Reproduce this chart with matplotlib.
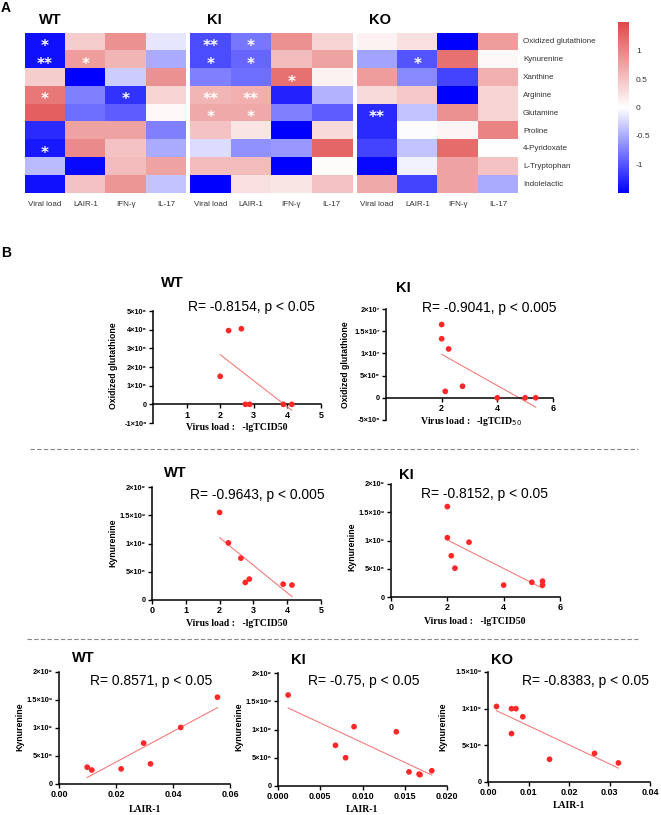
import numpy as np
import matplotlib
matplotlib.use("Agg")
import matplotlib.pyplot as plt
from matplotlib.colors import LinearSegmentedColormap
from matplotlib.lines import Line2D
from matplotlib.ticker import FixedLocator, FuncFormatter

# ---------------- data ----------------
metabolites = ["Oxidized glutathione", "Kynurenine", "Xanthine", "Arginine", "Glutamine",
               "Proline", "4-Pyridoxate", "L-Tryptophan", "Indolelactic"]
factors = ["Viral load", "LAIR-1", "IFN-\u03b3", "IL-17"]

wt_heat = [[-1.40, 0.40, 0.90, -0.15],
           [-1.40, 0.80, 0.60, -0.50],
           [0.40, -1.50, -0.30, 0.90],
           [1.10, -0.75, -1.20, 0.35],
           [1.30, -0.85, -0.95, 0.05],
           [-1.25, 0.75, 0.75, -0.75],
           [-1.35, 0.95, 0.50, -0.50],
           [-0.40, -1.45, 0.55, 0.75],
           [-1.40, 0.50, 0.85, -0.35]]
ki_heat = [[-1.05, -0.80, 0.90, 0.35],
           [-1.05, -0.90, 0.55, 0.75],
           [-0.75, -0.85, 1.15, 0.10],
           [0.60, 0.65, -1.30, -0.45],
           [0.70, 0.70, -0.75, -0.95],
           [0.50, 0.20, -1.50, 0.30],
           [-0.20, -0.65, -0.60, 1.25],
           [0.55, 0.55, -1.50, 0.03],
           [-1.50, 0.25, 0.20, 0.50]]
ko_heat = [[0.10, 0.25, -1.50, 0.80],
           [-0.55, -1.00, 1.15, 0.05],
           [0.80, -0.70, -1.10, 0.65],
           [0.30, 0.45, -1.50, 0.35],
           [-1.25, -0.35, 0.90, 0.35],
           [-1.25, -0.02, 0.08, 1.00],
           [-1.10, -0.35, 1.20, 0.00],
           [-1.45, -0.08, 0.75, 0.50],
           [0.70, -1.10, 0.75, -0.50]]

wt_stars = [(0, 0, "*"), (1, 0, "**"), (1, 1, "*"), (3, 0, "*"), (3, 2, "*"), (6, 0, "*")]
ki_stars = [(0, 0, "**"), (0, 1, "*"), (1, 0, "*"), (1, 1, "*"), (2, 2, "*"),
            (3, 0, "**"), (3, 1, "**"), (4, 0, "*"), (4, 1, "*")]
ko_stars = [(1, 1, "*"), (4, 0, "**")]

cbar_ticks = [-1, -0.5, 0, 0.5, 1]

# B row 1: oxidized glutathione vs virus load
wt_og_x = [2.00, 2.25, 2.63, 2.75, 2.88, 3.88, 4.13]
wt_og_y = [1.5e6, 3.95e6, 4.05e6, 0, 0, 0, 0]
ki_og_x = [2.00, 2.00, 2.25, 2.13, 2.75, 4.00, 5.00, 5.38]
ki_og_y = [1.65e7, 1.33e7, 1.10e7, 1.45e6, 2.6e6, 0, 0, 0]
# B row 2: kynurenine vs virus load
wt_ky_x = [2.00, 2.26, 2.63, 2.76, 2.88, 3.88, 4.14]
wt_ky_y = [1.55e9, 1.01e9, 0.74e9, 0.31e9, 0.37e9, 0.28e9, 0.265e9]
ki_ky_x = [2.00, 2.00, 2.77, 2.14, 2.27, 4.00, 5.00, 5.38, 5.38]
ki_ky_y = [1.60e9, 1.05e9, 0.97e9, 0.73e9, 0.51e9, 0.21e9, 0.26e9, 0.28e9, 0.21e9]
# B row 3: kynurenine vs LAIR-1
wt_la_x = [0.0099, 0.0115, 0.0218, 0.0297, 0.0321, 0.0427, 0.0556]
wt_la_y = [0.30e9, 0.25e9, 0.27e9, 0.73e9, 0.36e9, 1.01e9, 1.55e9]
ki_la_x = [0.0012, 0.0068, 0.0080, 0.0090, 0.0140, 0.0155, 0.0167, 0.0168, 0.0182]
ki_la_y = [1.61e9, 0.72e9, 0.50e9, 1.05e9, 0.96e9, 0.25e9, 0.21e9, 0.20e9, 0.27e9]
ko_la_x = [0.0021, 0.0058, 0.0069, 0.0086, 0.0058, 0.0152, 0.0263, 0.0322]
ko_la_y = [1.03e9, 1.00e9, 1.00e9, 0.89e9, 0.66e9, 0.31e9, 0.39e9, 0.26e9]

stats = {"wt_og": "R= -0.8154, p < 0.05", "ki_og": "R= -0.9041, p < 0.005",
         "wt_ky": "R= -0.9643, p < 0.005", "ki_ky": "R= -0.8152, p < 0.05",
         "wt_la": "R= 0.8571, p < 0.05", "ki_la": "R= -0.75, p < 0.05",
         "ko_la": "R= -0.8383, p < 0.05"}

# ---------------- figure ----------------
W, H = 661, 815
fig = plt.figure(figsize=(W / 100, H / 100), dpi=100)
SANS = ["Liberation Sans", "DejaVu Sans"]
SERIF = ["Liberation Serif", "DejaVu Serif"]
plt.rcParams["font.family"] = SANS


def ax_px(x0, y0, x1, y1):
    return fig.add_axes([x0 / W, 1 - y1 / H, (x1 - x0) / W, (y1 - y0) / H])


def ftext(x, y, s, **kw):
    return fig.text(x / W, 1 - y / H, s, **kw)


cmap = LinearSegmentedColormap.from_list("bwr2", ["#0000FF", "#FFFFFF", "#E04848"])

heat_boxes = [(25, 33, 186, 193.5), (190, 33, 352, 193.5), (357, 33, 518, 193.5)]
heat_data = [wt_heat, ki_heat, ko_heat]
heat_stars = [wt_stars, ki_stars, ko_stars]
heat_titles = [("WT", 50), ("KI", 214), ("KO", 380)]

im = None
for k in range(3):
    ax = ax_px(*heat_boxes[k])
    im = ax.imshow(np.array(heat_data[k]), cmap=cmap, vmin=-1.5, vmax=1.5, aspect="auto",
                   interpolation="nearest")
    ax.set_xticks([])
    ax.set_yticks([])
    for sp in ax.spines.values():
        sp.set_visible(False)
    for (r, c, s) in heat_stars[k]:
        ax.text(c, r + 0.25, s, color="white", fontsize=11, fontweight="bold",
                ha="center", va="center", family=["DejaVu Sans"])
    x0, _, x1, _ = heat_boxes[k]
    cw = (x1 - x0) / 4
    for j, f in enumerate(factors):
        ftext(x0 + cw * (j + 0.5), 205, f, fontsize=5.8, ha="center", va="center", color="#333333")
    t, tx = heat_titles[k]
    ftext(tx, 20, t, fontsize=10.5, fontweight="bold", ha="center", va="center")

rh = (193.5 - 33) / 9
for i, m in enumerate(metabolites):
    ftext(523, 33 + rh * (i + 0.5), m, fontsize=5.8, ha="left", va="center", color="#333333")

cax = ax_px(618, 22, 629, 193)
cb = fig.colorbar(im, cax=cax, ticks=cbar_ticks)
cb.outline.set_visible(False)
cb.ax.tick_params(length=0, pad=5, labelsize=6, labelcolor="#333333")
cb.ax.set_yticklabels(["-1", "-0.5", "0", "0.5", "1"])

ftext(6, 8, "A", fontsize=10, fontweight="bold", ha="center", va="center")
ftext(6, 253, "B", fontsize=10, fontweight="bold", ha="center", va="center")

SUP = str.maketrans("0123456789-", "\u2070\u00b9\u00b2\u00b3\u2074\u2075\u2076\u2077\u2078\u2079\u207b")


def sci(v, pos=None):
    if v == 0:
        return "0"
    e = int(np.floor(np.log10(abs(v)) + 1e-9))
    m = v / 10 ** e
    ms = ("%g" % round(m, 2))
    return ms + "\u00d710" + str(e).translate(SUP)


def scatter_panel(box, xs, ys, xlim, ylim, xticks, yticks, xfmt, zero_spine=False):
    ax = ax_px(*box)
    xs = np.array(xs, float)
    ys = np.array(ys, float)
    ax.scatter(xs, ys, s=17, color="#FF2828", edgecolors="none", zorder=3, clip_on=False)
    sl, ic = np.polyfit(xs, ys, 1)
    xx = np.array([xs.min(), xs.max()])
    ax.plot(xx, sl * xx + ic, color="#F47C7C", lw=0.8, zorder=2)
    ax.set_xlim(*xlim)
    ax.set_ylim(*ylim)
    for s in ["top", "right"]:
        ax.spines[s].set_visible(False)
    for s in ["left", "bottom"]:
        ax.spines[s].set_linewidth(1.1)
    if zero_spine:
        ax.spines["bottom"].set_position(("data", 0))
    ax.xaxis.set_major_locator(FixedLocator(xticks))
    ax.yaxis.set_major_locator(FixedLocator(yticks))
    ax.xaxis.set_major_formatter(FuncFormatter(xfmt))
    ax.yaxis.set_major_formatter(FuncFormatter(sci))
    ax.tick_params(axis="both", direction="out", length=3, width=1.0, pad=1.5)
    for lab in ax.get_xticklabels():
        lab.set_fontsize(6.5)
        lab.set_fontweight("bold")
    for lab in ax.get_yticklabels():
        lab.set_fontsize(5.3)
        lab.set_fontweight("bold")
        lab.set_family(SANS)
    ax.patch.set_alpha(0)
    return ax


fint = lambda v, p=None: "%d" % v
f2 = lambda v, p=None: "%.2f" % v
f3 = lambda v, p=None: "%.3f" % v

# Row 1
scatter_panel((153, 311, 321, 423), wt_og_x, wt_og_y, (0, 5), (-1e6, 5e6), [1, 2, 3, 4, 5],
              [-1e6, 0, 1e6, 2e6, 3e6, 4e6, 5e6], fint, zero_spine=True)
scatter_panel((386, 309, 553, 420), ki_og_x, ki_og_y, (0, 6), (-5e6, 2e7), [2, 4, 6],
              [-5e6, 0, 5e6, 1e7, 1.5e7, 2e7], fint, zero_spine=True)
# Row 2
scatter_panel((152, 487, 321, 600), wt_ky_x, wt_ky_y, (0, 5), (0, 2e9), [0, 1, 2, 3, 4, 5],
              [0, 5e8, 1e9, 1.5e9, 2e9], fint)
scatter_panel((391, 484, 560, 597), ki_ky_x, ki_ky_y, (0, 6), (0, 2e9), [0, 2, 4, 6],
              [0, 5e8, 1e9, 1.5e9, 2e9], fint)
# Row 3
scatter_panel((59, 672, 230, 784), wt_la_x, wt_la_y, (0, 0.06), (0, 2e9), [0, 0.02, 0.04, 0.06],
              [0, 5e8, 1e9, 1.5e9, 2e9], f2)
scatter_panel((278, 673, 447, 786), ki_la_x, ki_la_y, (0, 0.02), (0, 2e9),
              [0, 0.005, 0.010, 0.015, 0.020], [0, 5e8, 1e9, 1.5e9, 2e9], f3)
scatter_panel((488, 672, 650, 782), ko_la_x, ko_la_y, (0, 0.04), (0, 1.5e9),
              [0, 0.01, 0.02, 0.03, 0.04], [0, 5e8, 1e9, 1.5e9], f2)

# titles, stats and labels for B
tkw = dict(fontsize=10.5, fontweight="bold", ha="center", va="center")
rkw = dict(fontsize=10, ha="left", va="center")
ykw = dict(fontsize=6.3, fontweight="bold", rotation=90, ha="center", va="center")
xkw = dict(fontsize=7, fontweight="bold", ha="center", va="center", family=SERIF)

ftext(172, 283, "WT", **tkw); ftext(188, 307, stats["wt_og"], **rkw)
ftext(403, 288, "KI", **tkw); ftext(422, 308, stats["ki_og"], **rkw)
ftext(113, 366, "Oxidized glutathione", **ykw)
ftext(345, 365, "Oxidized glutathione", **ykw)
ftext(237, 428, "Virus load :   -lgTCID50", **xkw)
ftext(471, 422, "Virus load :   -lgTCID$_{50}$", **xkw)

ftext(175, 473, "WT", **tkw); ftext(190, 495, stats["wt_ky"], **rkw)
ftext(406, 475, "KI", **tkw); ftext(421, 494, stats["ki_ky"], **rkw)
ftext(113, 543, "Kynurenine", **ykw)
ftext(352, 547, "Kynurenine", **ykw)
ftext(237, 624, "Virus load :   -lgTCID50", **xkw)
ftext(475, 622, "Virus load :   -lgTCID50", **xkw)

ftext(83, 658, "WT", **tkw); ftext(90, 681, stats["wt_la"], **rkw)
ftext(298, 660, "KI", **tkw); ftext(308, 681, stats["ki_la"], **rkw)
ftext(502, 660, "KO", **tkw); ftext(522, 681, stats["ko_la"], **rkw)
ftext(20, 727, "Kynurenine", **ykw)
ftext(239, 727, "Kynurenine", **ykw)
ftext(443, 727, "Kynurenine", **ykw)
ftext(145, 810, "LAIR-1", **xkw)
ftext(362, 810, "LAIR-1", **xkw)
ftext(569, 806, "LAIR-1", **xkw)

for yy, xs in [(449, 30), (639, 27)]:
    fig.add_artist(Line2D([xs / W, 638 / W], [1 - yy / H, 1 - yy / H], transform=fig.transFigure,
                          color="#888888", lw=0.8, linestyle=(0, (4, 2))))

fig.savefig("out.png", dpi=100)
